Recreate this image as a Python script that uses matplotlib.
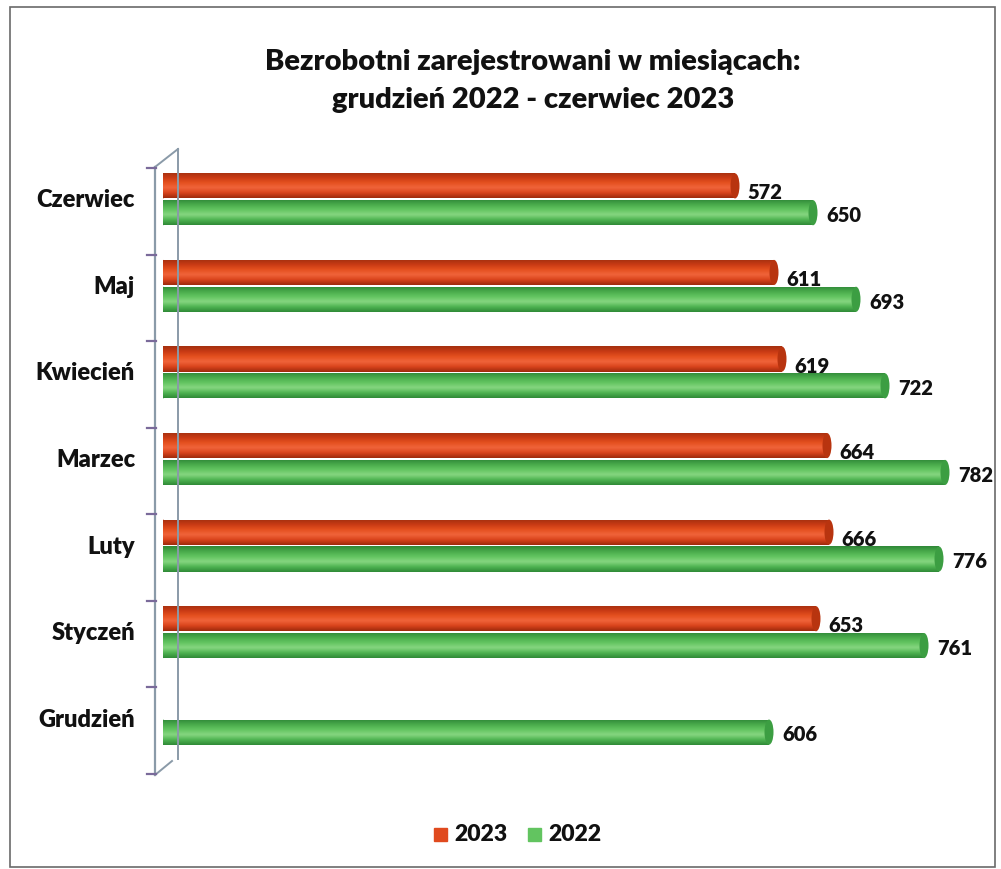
import matplotlib
matplotlib.use("Agg")
import matplotlib.pyplot as plt
import numpy as np
from matplotlib.colors import LinearSegmentedColormap
from matplotlib.patches import Ellipse, Rectangle
from matplotlib.lines import Line2D

plt.rcParams['font.family'] = ['Lato', 'DejaVu Sans']

categories = ["Grudzień", "Styczeń", "Luty", "Marzec", "Kwiecień", "Maj", "Czerwiec"]
values_2023 = [None, 653, 666, 664, 619, 611, 572]
values_2022 = [606, 761, 776, 782, 722, 693, 650]
series_names = ["2023", "2022"]
title_lines = ["Bezrobotni zarejestrowani w miesiącach:", "grudzień 2022 - czerwiec 2023"]

W, H = 1001, 870
fig = plt.figure(figsize=(W / 100, H / 100), dpi=100)
fig.patch.set_facecolor("white")

def fx(px):
    return px / W

def fy(py):
    return 1 - py / H

WEIGHT = "heavy"

ax_left, ax_right, ax_top, ax_bot = 163, 986, 157, 763
ax = fig.add_axes([fx(ax_left), fy(ax_bot), fx(ax_right - ax_left), (ax_bot - ax_top) / H])
ax.set_facecolor("none")
for s in ax.spines.values():
    s.set_visible(False)
ax.set_xticks([])
ax.set_yticks([])

bar_h = 0.29
off = 0.155
red_cmap = LinearSegmentedColormap.from_list(
    "r", ["#9E2A0C", "#D9441C", "#F0643A", "#E4501F", "#C83A14", "#A3300F"])
green_cmap = LinearSegmentedColormap.from_list(
    "g", ["#2F8A37", "#4FB452", "#86D680", "#62C460", "#49AA4B", "#2F8838"])
grad = np.linspace(0, 1, 64).reshape(-1, 1)

y_idx = np.arange(len(categories))

def draw_cyl(y, v, cmap, cap_color, zorder):
    bars = ax.barh([y], [v], height=bar_h, color="none", edgecolor="none", zorder=zorder)
    patch = bars[0]
    im = ax.imshow(grad, cmap=cmap, extent=(0, v, y + bar_h / 2, y - bar_h / 2),
                   aspect="auto", zorder=zorder, interpolation="bicubic")
    im.set_clip_path(patch)
    cap = Ellipse((v, y), width=9, height=bar_h, facecolor=cap_color,
                  edgecolor="none", zorder=zorder + 0.1)
    ax.add_patch(cap)
    left = Ellipse((0, y), width=9, height=bar_h, facecolor=cap_color,
                   edgecolor="none", zorder=zorder - 0.1, alpha=0.9)
    ax.add_patch(left)

for i, (v3, v2) in enumerate(zip(values_2023, values_2022)):
    if v2 is not None:
        draw_cyl(y_idx[i] - off, v2, green_cmap, "#3C9E42", 3)
        ax.text(v2 + 13, y_idx[i] - off - 0.02, f"{v2}", fontsize=14.5, fontweight=WEIGHT,
                va="center", ha="left", color="#111111", zorder=6, clip_on=False)
    if v3 is not None:
        draw_cyl(y_idx[i] + off, v3, red_cmap, "#B8340F", 4)
        ax.text(v3 + 12, y_idx[i] + off - 0.07, f"{v3}", fontsize=14.5, fontweight=WEIGHT,
                va="center", ha="left", color="#111111", zorder=6, clip_on=False)

ax.set_xlim(0, 823)
ax.set_ylim(-0.5, len(categories) - 0.5)

for i, c in enumerate(categories):
    ax.text(-28, y_idx[i], c, fontsize=17, fontweight=WEIGHT, ha="right", va="center",
            color="#111111", clip_on=False)

# 3D wall lines
wall = "#8A9AA8"
fig.add_artist(Line2D([fx(155), fx(155)], [fy(168), fy(776)], color=wall, lw=1.6))
fig.add_artist(Line2D([fx(178), fx(178)], [fy(150), fy(760)], color=wall, lw=1.4))
fig.add_artist(Line2D([fx(155), fx(178)], [fy(168), fy(150)], color=wall, lw=1.4))
fig.add_artist(Line2D([fx(155), fx(172)], [fy(776), fy(762)], color=wall, lw=1.4))
for k in range(len(categories) + 1):
    ty = ax_top + 12 + k * (ax_bot - ax_top) / len(categories)
    fig.add_artist(Line2D([fx(147), fx(156)], [fy(ty), fy(ty)], color="#7A6A9A", lw=1.6))

# title
fig.text(fx(533), fy(62), title_lines[0], fontsize=21, fontweight=WEIGHT, ha="center",
         va="center", color="#111111")
fig.text(fx(533), fy(100), title_lines[1], fontsize=21, fontweight=WEIGHT, ha="center",
         va="center", color="#111111")

# legend
leg_y = 835
fig.add_artist(Rectangle((fx(434), fy(leg_y + 7)), fx(13), 13 / H, color="#E04A1E"))
fig.text(fx(454), fy(leg_y), series_names[0], fontsize=16.5, fontweight=WEIGHT, va="center",
         ha="left", color="#111111")
fig.add_artist(Rectangle((fx(528), fy(leg_y + 7)), fx(13), 13 / H, color="#62C460"))
fig.text(fx(548), fy(leg_y), series_names[1], fontsize=16.5, fontweight=WEIGHT, va="center",
         ha="left", color="#111111")

# outer border
fig.add_artist(Rectangle((fx(10), fy(868)), fx(985), (868 - 8) / H, fill=False,
                         edgecolor="#6A6A6A", lw=1.2))

fig.savefig("out.png", dpi=100, facecolor="white")
